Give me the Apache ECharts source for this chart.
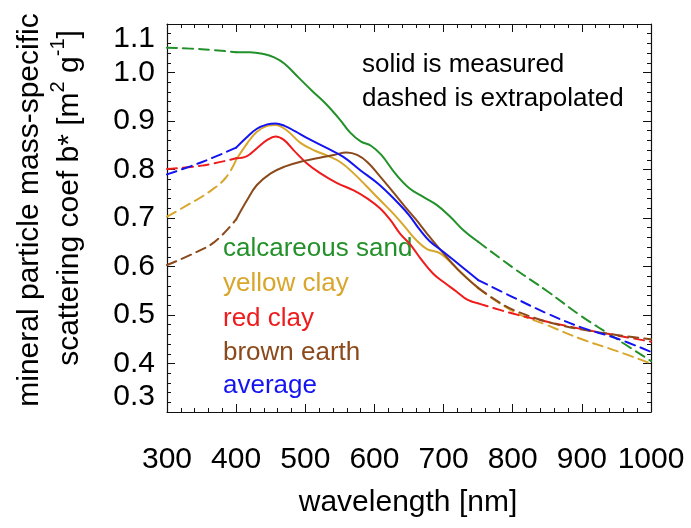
<!DOCTYPE html>
<html>
<head>
<meta charset="utf-8">
<script src="https://cdn.jsdelivr.net/npm/echarts@6/dist/echarts.min.js"></script>
<style>
  html, body { margin: 0; padding: 0; background: #fff; }
  #chart { width: 691px; height: 528px; }
</style>
</head>
<body>
<div id="chart"></div>
<script>
// Mineral particle mass-specific scattering coefficient spectra.
// Each material: dashed extrapolation below 400 nm, measured (solid) 400-750 nm,
// dashed extrapolation above 750 nm.

const xTicks = [300, 400, 500, 600, 700, 800, 900, 1000];
const yTicks = [0.3, 0.4, 0.5, 0.6, 0.7, 0.8, 0.9, 1.0, 1.1];

// calcareous sand
const sandLoWl = [300, 350, 400];
const sandLo   = [1.051, 1.048, 1.042];
const sandWl   = [400, 420, 440, 455, 470, 490, 510, 530, 550, 565, 580, 595, 610, 630, 650, 670, 690, 710, 730, 750];
const sand     = [1.042, 1.042, 1.038, 1.031, 1.018, 0.990, 0.962, 0.935, 0.903, 0.876, 0.858, 0.849, 0.830, 0.792, 0.762, 0.744, 0.727, 0.702, 0.673, 0.651];
const sandHiWl = [750, 800, 850, 900, 950, 1000];
const sandHi   = [0.651, 0.598, 0.549, 0.497, 0.451, 0.405];

// yellow clay
const yellowLoWl = [300, 330, 360, 385, 400];
const yellowLo   = [0.703, 0.727, 0.753, 0.783, 0.820];
const yellowWl   = [400, 416, 430, 445, 457, 473, 493, 512, 531, 551, 570, 589, 608, 628, 645, 660, 676, 695, 720, 750];
const yellow     = [0.820, 0.854, 0.878, 0.890, 0.892, 0.881, 0.855, 0.840, 0.829, 0.815, 0.792, 0.765, 0.737, 0.708, 0.680, 0.655, 0.636, 0.627, 0.595, 0.555];
const yellowHiWl = [750, 800, 850, 900, 950, 1000];
const yellowHi   = [0.555, 0.508, 0.479, 0.450, 0.426, 0.400];

// red clay
const redLoWl = [300, 350, 400];
const redLo   = [0.801, 0.808, 0.823];
const redWl   = [400, 415, 430, 445, 457, 469, 483, 502, 522, 546, 570, 590, 608, 623, 637, 652, 666, 685, 700, 719, 735, 750];
const red     = [0.823, 0.827, 0.844, 0.861, 0.868, 0.861, 0.840, 0.813, 0.792, 0.772, 0.757, 0.740, 0.720, 0.696, 0.668, 0.645, 0.618, 0.585, 0.568, 0.548, 0.531, 0.524];
const redHiWl = [750, 800, 850, 900, 950, 1000];
const redHi   = [0.524, 0.503, 0.486, 0.471, 0.458, 0.445];

// brown earth
const brownLoWl = [300, 340, 370, 400];
const brownLo   = [0.603, 0.628, 0.652, 0.697];
const brownWl   = [400, 415, 430, 450, 470, 493, 517, 541, 560, 575, 590, 608, 628, 645, 660, 676, 700, 724, 750];
const brown     = [0.697, 0.735, 0.768, 0.792, 0.806, 0.816, 0.823, 0.830, 0.835, 0.830, 0.815, 0.786, 0.752, 0.722, 0.697, 0.668, 0.627, 0.589, 0.556];
const brownHiWl = [750, 775, 800, 850, 900, 950, 1000];
const brownHi   = [0.556, 0.531, 0.511, 0.486, 0.470, 0.459, 0.450];

// average
const avgLoWl = [300, 350, 400];
const avgLo   = [0.790, 0.815, 0.845];
const avgWl   = [400, 415, 430, 445, 457, 470, 485, 505, 530, 555, 580, 605, 630, 650, 665, 680, 700, 725, 750];
const avg     = [0.845, 0.866, 0.884, 0.893, 0.895, 0.890, 0.879, 0.863, 0.845, 0.826, 0.798, 0.771, 0.737, 0.706, 0.677, 0.652, 0.630, 0.601, 0.572];
const avgHiWl = [750, 800, 850, 900, 950, 1000];
const avgHi   = [0.572, 0.537, 0.503, 0.474, 0.452, 0.424];

const legendNames = ['calcareous sand', 'yellow clay', 'red clay', 'brown earth', 'average'];
const colors = ['#23912a', '#d9a62c', '#ee1c1c', '#8b4a1c', '#1414f0'];

const FONT = '"Liberation Sans", Arial, Helvetica, sans-serif';

function pairs(xs, ys) { return xs.map((x, i) => [x, ys[i]]); }

const materials = [
  { name: legendNames[0], parts: [[sandLoWl, sandLo, true], [sandWl, sand, false], [sandHiWl, sandHi, true]] },
  { name: legendNames[1], parts: [[yellowLoWl, yellowLo, true], [yellowWl, yellow, false], [yellowHiWl, yellowHi, true]] },
  { name: legendNames[2], parts: [[redLoWl, redLo, true], [redWl, red, false], [redHiWl, redHi, true]] },
  { name: legendNames[3], parts: [[brownLoWl, brownLo, true], [brownWl, brown, false], [brownHiWl, brownHi, true]] },
  { name: legendNames[4], parts: [[avgLoWl, avgLo, true], [avgWl, avg, false], [avgHiWl, avgHi, true]] }
];

const series = [];
materials.forEach((m, k) => {
  m.parts.forEach(([xs, ys, dashed]) => {
    series.push({
      name: m.name,
      type: 'line',
      data: pairs(xs, ys),
      showSymbol: false,
      smooth: 0.4,
      silent: true,
      z: 2 + k,
      lineStyle: { color: colors[k], width: 2, type: dashed ? [10, 6] : 'solid', cap: 'round', join: 'round' }
    });
  });
});

const GRID = { left: 167, top: 24, right: 40, bottom: 116 };

const tickCommon = {
  axisLine: { show: true, onZero: false, lineStyle: { color: '#111', width: 1.2 } },
  axisTick: { show: true, inside: true, length: 8, lineStyle: { color: '#111', width: 1 } },
  minorTick: { show: true, splitNumber: 5, length: 4, lineStyle: { color: '#111', width: 1 } },
  splitLine: { show: false },
  minorSplitLine: { show: false }
};

// Measure text widths for the rotated y-axis title with superscripts.
const mctx = document.createElement('canvas').getContext('2d');
function textW(s, size) { mctx.font = size + 'px ' + FONT; return mctx.measureText(s).width; }

const titleSize = 30, supSize = 20;
const t2parts = [
  ['scattering coef b* [m', titleSize, 0],
  ['2', supSize, -12],
  [' g', titleSize, 0],
  ['-1', supSize, -12],
  [']', titleSize, 0]
];
let cx = 0;
const t2children = t2parts.map(([s, size, dy]) => {
  const el = {
    type: 'text',
    x: cx, y: dy,
    style: { text: s, fontSize: size, fontFamily: FONT, fill: '#000', align: 'left', verticalAlign: 'middle', textAlign: 'left', textVerticalAlign: 'middle' }
  };
  cx += textW(s, size);
  return el;
});
const t2len = cx;

function plainText(x, y, s, color, size) {
  return {
    type: 'text', x: x, y: y,
    style: { text: s, fontSize: size, fontFamily: FONT, fill: color, align: 'left', verticalAlign: 'middle', textAlign: 'left', textVerticalAlign: 'middle' }
  };
}

const legendY = [249, 284, 318.5, 352.5, 386];
const graphics = [
  {
    type: 'text', x: 30, y: 210, rotation: Math.PI / 2,
    style: { text: 'mineral particle mass-specific', fontSize: titleSize, fontFamily: FONT, fill: '#000', align: 'center', verticalAlign: 'middle', textAlign: 'center', textVerticalAlign: 'middle' }
  },
  {
    type: 'group', x: 70, y: 198 + t2len / 2, rotation: Math.PI / 2,
    children: t2children
  },
  {
    type: 'text', x: 408, y: 503,
    style: { text: 'wavelength [nm]', fontSize: titleSize, fontFamily: FONT, fill: '#000', align: 'center', verticalAlign: 'middle', textAlign: 'center', textVerticalAlign: 'middle' }
  },
  plainText(362, 65, 'solid is measured', '#000', 26),
  plainText(362, 99, 'dashed is extrapolated', '#000', 26)
];
legendNames.forEach((n, i) => graphics.push(plainText(223, legendY[i], n, colors[i], 26)));

const chart = echarts.init(document.getElementById('chart'), null, { renderer: 'canvas' });
chart.setOption({
  animation: false,
  backgroundColor: '#fff',
  grid: GRID,
  xAxis: [
    Object.assign({
      type: 'value', min: xTicks[0], max: xTicks[xTicks.length - 1], interval: 100, position: 'bottom',
      axisLabel: { show: true, fontSize: 30, fontFamily: FONT, color: '#000', margin: 33, formatter: v => String(v) }
    }, tickCommon),
    Object.assign({
      type: 'value', min: xTicks[0], max: xTicks[xTicks.length - 1], interval: 100, position: 'top',
      axisLabel: { show: false }
    }, tickCommon)
  ],
  yAxis: [
    Object.assign({
      type: 'value', min: yTicks[0], max: yTicks[yTicks.length - 1], interval: 0.1, position: 'left',
      axisLabel: {
        show: true, fontSize: 30, fontFamily: FONT, color: '#000', margin: 12,
        formatter: v => v.toFixed(1),
        verticalAlignMinLabel: 'bottom', verticalAlignMaxLabel: 'top'
      }
    }, tickCommon),
    Object.assign({
      type: 'value', min: yTicks[0], max: yTicks[yTicks.length - 1], interval: 0.1, position: 'right',
      axisLabel: { show: false }
    }, tickCommon)
  ],
  series: series,
  graphic: graphics
});
</script>
</body>
</html>
